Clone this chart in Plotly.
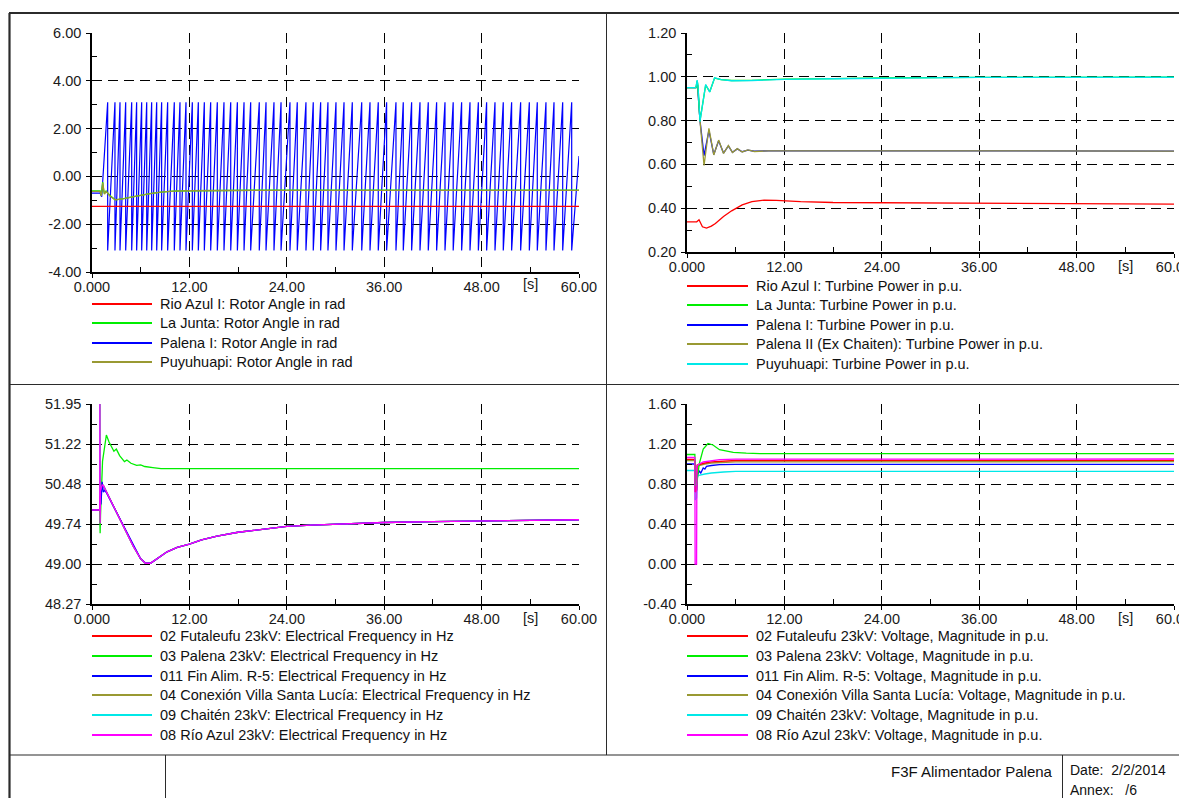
import plotly.graph_objects as go

# the page body has an 8px margin: the figure is sized so that it fills the window
OFF = 8
W, H = 1187 - OFF, 798 - OFF
FONT = "Liberation Sans, Arial, sans-serif"

# ---------------- data ----------------
time_ticks = [0, 12, 24, 36, 48, 60]
time_tick_text = ["0.000", "12.00", "24.00", "36.00", "48.00", "60.00"]
time_minor = [6, 18, 30, 42, 54]

# --- Top-left: rotor angles (rad)
ang_red_t = [0, 60]
ang_red_y = [-1.25, -1.25]
ang_green_t = [0, 1.0, 1.15, 1.31, 1.45, 1.52, 1.73, 2.2, 2.83, 3.1, 4.0, 5.0, 6.0, 7.15, 8.5, 10.0, 12.0, 15.0, 20.0, 60.0]
ang_green_y = [-0.61, -0.61, -0.8, -0.24, -0.6, -0.72, -0.61, -0.8, -0.97, -0.97, -0.92, -0.85, -0.78, -0.72, -0.66, -0.62, -0.6, -0.59, -0.58, -0.58]
ang_olive_t = [0, 1.0, 1.15, 1.33, 1.47, 1.54, 1.75, 2.2, 2.85, 3.1, 4.0, 5.0, 6.0, 7.15, 8.5, 10.0, 12.0, 15.0, 20.0, 60.0]
ang_olive_y = [-0.63, -0.63, -0.82, -0.27, -0.62, -0.74, -0.63, -0.82, -0.98, -0.97, -0.93, -0.86, -0.79, -0.72, -0.66, -0.62, -0.6, -0.59, -0.585, -0.585]
# Palena I: pre-fault part, then wrap times of the +-pi sawtooth
ang_blue_pre_t = [0, 1.0, 1.2]
ang_blue_pre_y = [-0.7, -0.7, -0.85]
ang_blue_wrap_t = [1.93, 2.83, 3.45, 4.15, 4.89, 5.5, 6.12, 6.74, 7.35, 7.97, 8.58, 9.32,
                   10.14, 10.84, 11.58, 12.36, 13.1, 13.84, 14.62, 15.44, 16.26, 17.09,
                   17.91, 18.73, 19.55, 20.61, 21.44, 22.42, 23.29, 24.39, 25.29, 26.36,
                   27.26, 28.17, 29.07, 30.06, 31.05, 32.07, 33.23, 34.25, 35.27, 36.3,
                   37.45, 38.35, 39.38, 40.41, 41.43, 42.46, 43.49, 44.5, 45.54, 46.57,
                   47.6, 48.62, 49.65, 50.67, 51.7, 52.81, 53.88, 54.86, 55.93, 56.92,
                   57.99, 59.1]
ang_blue_wrap_hi = 3.1
ang_blue_wrap_lo = -3.1
ang_blue_end_t = [60.0]
ang_blue_end_y = [0.85]

# --- Top-right: turbine power (p.u.)
pw_red_t = [0, 1.2, 1.48, 1.9, 2.4, 3.0, 3.5, 4.5, 5.5, 6.8, 8.0, 9.5, 11.0, 14.0, 18.0, 24.0, 36.0, 48.0, 60.0]
pw_red_y = [0.338, 0.338, 0.347, 0.315, 0.309, 0.318, 0.33, 0.362, 0.388, 0.415, 0.43, 0.437, 0.436, 0.43, 0.426, 0.425, 0.423, 0.422, 0.419]
pw_green_t = [0, 1.1, 1.25, 1.35, 1.6, 2.3, 2.8, 3.4, 4.2, 5.5, 8.0, 12.0, 18.0, 24.0, 36.0, 60.0]
pw_green_y = [0.951, 0.951, 0.982, 0.96, 0.80, 0.962, 0.932, 0.994, 0.987, 0.983, 0.984, 0.989, 0.992, 0.995, 0.997, 0.998]
pw_cyan_t = [0, 1.1, 1.25, 1.35, 1.6, 2.3, 2.8, 3.4, 4.2, 5.5, 8.0, 12.0, 18.0, 24.0, 36.0, 60.0]
pw_cyan_y = [0.951, 0.951, 0.985, 0.96, 0.795, 0.965, 0.93, 0.995, 0.987, 0.982, 0.983, 0.988, 0.991, 0.994, 0.997, 0.998]
pw_blue_t = [0, 1.1, 1.3, 1.6, 2.1, 2.7, 3.3, 3.9, 4.5, 5.1, 5.6, 6.2, 6.8, 7.5, 8.3, 10.0, 60.0]
pw_blue_y = [0.951, 0.951, 0.96, 0.80, 0.64, 0.755, 0.645, 0.708, 0.652, 0.684, 0.655, 0.671, 0.658, 0.665, 0.66, 0.662, 0.661]
pw_olive_t = [0, 1.1, 1.3, 1.6, 2.1, 2.7, 3.3, 3.9, 4.5, 5.1, 5.6, 6.2, 6.8, 7.5, 8.3, 10.0, 60.0]
pw_olive_y = [0.951, 0.951, 0.96, 0.80, 0.595, 0.765, 0.643, 0.711, 0.65, 0.686, 0.654, 0.672, 0.657, 0.666, 0.659, 0.662, 0.661]

# --- Bottom-left: electrical frequency (Hz)
freq_ticks = [48.27, 49.006, 49.742, 50.478, 51.214, 51.95]
freq_tick_text = ["48.27", "49.00", "49.74", "50.48", "51.22", "51.95"]
fq_main_t = [0, 0.95, 0.97, 1.0, 1.05, 1.25, 1.4, 1.85, 2.67, 3.5, 4.3, 5.1, 5.96, 6.6, 7.2, 8.0, 9.25, 10.5, 12.0, 13.5, 15.4, 18.0, 21.0, 24.0, 27.0, 30.0, 33.0, 36.0, 42.0, 48.0, 54.0, 60.0]
fq_main_y = [50.0, 50.0, 51.95, 49.75, 50.35, 50.46, 50.45, 50.31, 50.07, 49.82, 49.57, 49.33, 49.11, 49.02, 49.02, 49.10, 49.23, 49.31, 49.37, 49.45, 49.52, 49.59, 49.65, 49.70, 49.72, 49.74, 49.76, 49.77, 49.785, 49.795, 49.81, 49.82]
fq_blue_t = [0, 0.95, 1.0, 1.1, 1.25, 1.4, 1.6, 1.85, 2.67, 3.5, 4.3, 5.1, 5.96, 6.6, 7.2, 8.0, 9.25, 10.5, 12.0, 13.5, 15.4, 18.0, 21.0, 24.0, 27.0, 30.0, 33.0, 36.0, 42.0, 48.0, 54.0, 60.0]
fq_blue_y = [50.0, 50.0, 50.25, 50.1, 50.52, 50.33, 50.36, 50.3, 50.06, 49.82, 49.57, 49.33, 49.11, 49.02, 49.02, 49.10, 49.23, 49.31, 49.37, 49.45, 49.52, 49.59, 49.65, 49.70, 49.72, 49.74, 49.76, 49.77, 49.785, 49.795, 49.81, 49.82]
fq_green_t = [0, 0.95, 1.0, 1.05, 1.3, 1.77, 2.1, 2.7, 3.0, 3.4, 4.0, 4.3, 4.8, 5.5, 6.0, 6.5, 7.5, 8.5, 60.0]
fq_green_y = [50.0, 50.0, 49.57, 49.9, 50.9, 51.38, 51.25, 51.08, 51.12, 51.0, 50.89, 50.92, 50.86, 50.82, 50.83, 50.8, 50.78, 50.76, 50.76]

# --- Bottom-right: voltage magnitude (p.u.)
vm_red_t = [0, 0.97, 1.02, 1.18, 1.25, 1.6, 2.2, 3.0, 4.5, 6.0, 60.0]
vm_red_y = [1.047, 1.047, 0.72, 0.74, 0.99, 1.0, 1.01, 1.022, 1.03, 1.035, 1.037]
vm_green_t = [0, 0.97, 1.02, 1.2, 1.5, 2.0, 2.59, 3.2, 4.0, 5.0, 5.7, 7.3, 9.0, 60.0]
vm_green_y = [1.095, 1.095, 0.78, 0.8, 1.0, 1.15, 1.205, 1.19, 1.143, 1.125, 1.117, 1.108, 1.104, 1.103]
vm_blue_t = [0, 0.97, 1.02, 1.18, 1.25, 1.5, 1.7, 2.0, 2.2, 2.4, 3.0, 4.0, 6.0, 60.0]
vm_blue_y = [1.0, 1.0, 0.72, 0.74, 0.88, 0.93, 0.91, 0.96, 0.95, 0.977, 0.985, 0.993, 0.996, 0.997]
vm_olive_t = [0, 0.97, 1.02, 1.18, 1.25, 1.6, 2.2, 3.0, 4.5, 6.0, 60.0]
vm_olive_y = [1.033, 1.033, 0.72, 0.74, 0.98, 0.99, 1.0, 1.01, 1.017, 1.021, 1.023]
vm_cyan_t = [0, 0.97, 1.02, 1.18, 1.3, 1.6, 2.2, 3.0, 4.5, 6.0, 60.0]
vm_cyan_y = [0.935, 0.935, 0.64, 0.66, 0.877, 0.89, 0.9, 0.91, 0.92, 0.926, 0.927]
vm_mag_t = [0, 0.97, 1.0, 1.18, 1.22, 1.5, 2.0, 3.0, 4.0, 6.0, 60.0]
vm_mag_y = [1.065, 1.065, 0.0, 0.0, 0.98, 1.0, 1.02, 1.035, 1.043, 1.048, 1.05]

# legend names
tl_names = ["Rio Azul I: Rotor Angle in rad", "La Junta: Rotor Angle in rad",
            "Palena I: Rotor Angle in rad", "Puyuhuapi: Rotor Angle in rad"]
tr_names = ["Rio Azul I: Turbine Power in p.u.", "La Junta: Turbine Power in p.u.",
            "Palena I: Turbine Power in p.u.", "Palena II (Ex Chaiten): Turbine Power in p.u.",
            "Puyuhuapi: Turbine Power in p.u."]
bl_names = ["02 Futaleufu 23kV: Electrical Frequency in Hz", "03 Palena 23kV: Electrical Frequency in Hz",
            "011 Fin Alim. R-5: Electrical Frequency in Hz",
            "04 Conexión Villa Santa Lucía: Electrical Frequency in Hz",
            "09 Chaitén 23kV: Electrical Frequency in Hz", "08 Río Azul 23kV: Electrical Frequency in Hz"]
br_names = ["02 Futaleufu 23kV: Voltage, Magnitude in p.u.", "03 Palena 23kV: Voltage, Magnitude in p.u.",
            "011 Fin Alim. R-5: Voltage, Magnitude in p.u.",
            "04 Conexión Villa Santa Lucía: Voltage, Magnitude in p.u.",
            "09 Chaitén 23kV: Voltage, Magnitude in p.u.", "08 Río Azul 23kV: Voltage, Magnitude in p.u."]
footer_title = "F3F Alimentador Palena"
footer_date = "Date:  2/2/2014"
footer_annex = "Annex:   /6"

# ---------------- style ----------------
RED, GREEN, BLUE, OLIVE, CYAN, MAG = "#ff0000", "#00ee00", "#0000ff", "#999933", "#00e8e8", "#ff00ff"
LW = 1.3
FS = 14.5


def px(x):
    """screen pixel x -> paper fraction"""
    return (x - OFF) / W


def py(y):
    """screen pixel y -> paper fraction"""
    return 1 - (y - OFF) / H


fig = go.Figure()


def add(t, y, color, ax, width=LW):
    fig.add_trace(go.Scatter(x=t, y=y, mode="lines", line=dict(color=color, width=width),
                             xaxis="x" + ax if ax != "1" else "x",
                             yaxis="y" + ax if ax != "1" else "y",
                             showlegend=False, hoverinfo="skip"))


# Top-left traces
blue_t = list(ang_blue_pre_t)
blue_y = list(ang_blue_pre_y)
for tw in ang_blue_wrap_t:
    blue_t += [tw, tw]
    blue_y += [ang_blue_wrap_hi, ang_blue_wrap_lo]
blue_t += ang_blue_end_t
blue_y += ang_blue_end_y
add(blue_t, blue_y, BLUE, "1", 1.2)
add(ang_red_t, ang_red_y, RED, "1")
add(ang_green_t, ang_green_y, GREEN, "1")
add(ang_olive_t, ang_olive_y, OLIVE, "1")

# Top-right traces
add(pw_red_t, pw_red_y, RED, "2")
add(pw_blue_t, pw_blue_y, BLUE, "2")
add(pw_olive_t, pw_olive_y, OLIVE, "2")
add(pw_green_t, pw_green_y, GREEN, "2")
add(pw_cyan_t, pw_cyan_y, CYAN, "2")

# Bottom-left traces (Futaleufu, Conexión, Chaitén coincide with Río Azul)
add(fq_main_t, fq_main_y, RED, "3")
add(fq_main_t, fq_main_y, OLIVE, "3")
add(fq_main_t, fq_main_y, CYAN, "3")
add(fq_green_t, fq_green_y, GREEN, "3")
add(fq_blue_t, fq_blue_y, BLUE, "3")
add(fq_main_t, fq_main_y, MAG, "3")

# Bottom-right traces
add(vm_cyan_t, vm_cyan_y, CYAN, "4")
add(vm_blue_t, vm_blue_y, BLUE, "4")
add(vm_olive_t, vm_olive_y, OLIVE, "4")
add(vm_red_t, vm_red_y, RED, "4")
add(vm_green_t, vm_green_y, GREEN, "4")
add(vm_mag_t, vm_mag_y, MAG, "4")

GRIDDASH = "10px,6px"
tickfont = dict(family=FONT, size=FS, color="#1a1a1a")


def xcfg(x0, x1, anchor):
    return dict(domain=[px(x0), px(x1)], anchor=anchor, range=[0, 60],
                tickvals=time_ticks, ticktext=time_tick_text,
                ticks="outside", ticklen=4, tickcolor="black", tickwidth=1,
                showline=True, linecolor="black", linewidth=1.5,
                showgrid=True, gridcolor="black", gridwidth=1, griddash=GRIDDASH,
                zeroline=False, tickfont=tickfont, fixedrange=True, automargin=False,
                ticklabeloverflow="allow", ticklabelstandoff=-3,
                minor=dict(tickvals=time_minor, ticks="inside", ticklen=5,
                           tickcolor="black", showgrid=False))


def ycfg(y0, y1, anchor, rng, vals, texts, minor_vals):
    return dict(domain=[py(y1), py(y0)], anchor=anchor, range=rng,
                tickvals=vals, ticktext=texts,
                ticks="outside", ticklen=4, tickcolor="black", tickwidth=1,
                showline=True, linecolor="black", linewidth=1.5,
                showgrid=True, gridcolor="black", gridwidth=1, griddash=GRIDDASH,
                zeroline=False, tickfont=tickfont, fixedrange=True, automargin=False,
                ticklabeloverflow="allow", ticklabelstandoff=2,
                minor=dict(tickvals=minor_vals, ticks="inside", ticklen=5,
                           tickcolor="black", showgrid=False))


tl_vals = [-4, -2, 0, 2, 4, 6]
tr_vals = [0.2, 0.4, 0.6, 0.8, 1.0, 1.2]
br_vals = [-0.4, 0.0, 0.4, 0.8, 1.2, 1.6]


def fmt(v):
    return "%.2f" % v


def mids(vals):
    return [(a + b) / 2 for a, b in zip(vals[:-1], vals[1:])]


fig.update_layout(
    width=W, height=H, autosize=False,
    margin=dict(l=0, r=0, t=0, b=0, pad=0, autoexpand=False),
    paper_bgcolor="white", plot_bgcolor="white", showlegend=False,
    xaxis=xcfg(92, 579, "y"),
    yaxis=ycfg(33, 272, "x", [-4, 6], tl_vals, [fmt(v) for v in tl_vals], mids(tl_vals)),
    xaxis2=xcfg(687, 1174, "y2"),
    yaxis2=ycfg(33, 252, "x2", [0.2, 1.2], tr_vals, [fmt(v) for v in tr_vals], mids(tr_vals)),
    xaxis3=xcfg(92, 579, "y3"),
    yaxis3=ycfg(404, 604, "x3", [48.27, 51.95], freq_ticks, freq_tick_text, mids(freq_ticks)),
    xaxis4=xcfg(687, 1174, "y4"),
    yaxis4=ycfg(404, 604, "x4", [-0.4, 1.6], br_vals, [fmt(v) for v in br_vals], mids(br_vals)),
)

shapes = []
annotations = []


def hline(x0, x1, y, color="#2b2b2b", width=1):
    shapes.append(dict(type="line", xref="paper", yref="paper", x0=px(x0), x1=px(x1),
                       y0=py(y), y1=py(y), line=dict(color=color, width=width)))


def vline(x, y0, y1, color="#2b2b2b", width=1):
    shapes.append(dict(type="line", xref="paper", yref="paper", x0=px(x), x1=px(x),
                       y0=py(y0), y1=py(y1), line=dict(color=color, width=width)))


# sheet frame
hline(9, 1187, 13, width=2.2)
vline(9.5, 13, 798, width=2.2)
vline(606.5, 13, 755, width=1)
hline(9, 1187, 384.5, width=1.2)
hline(9, 1187, 755, width=1.2)
vline(165.5, 755, 798, width=1)
vline(1062.5, 755, 798, width=1)

# "[s]" unit labels
for xr, yy in (("x", 284), ("x2", 266), ("x3", 618), ("x4", 618)):
    annotations.append(dict(text="[s]", xref=xr, yref="paper", x=54, y=py(yy),
                            showarrow=False, xanchor="center", yanchor="middle",
                            font=dict(family=FONT, size=FS, color="#1a1a1a")))


def legend(names, colors, lx0, lx1, tx, rows):
    for name, col, ry in zip(names, colors, rows):
        shapes.append(dict(type="line", xref="paper", yref="paper", x0=px(lx0), x1=px(lx1),
                           y0=py(ry), y1=py(ry), line=dict(color=col, width=2)))
        annotations.append(dict(text=name, xref="paper", yref="paper", x=px(tx), y=py(ry),
                                showarrow=False, xanchor="left", yanchor="middle",
                                font=dict(family=FONT, size=FS, color="#111111")))


legend(tl_names, [RED, GREEN, BLUE, OLIVE], 92, 152, 158, [304, 323, 343, 362])
legend(tr_names, [RED, GREEN, BLUE, OLIVE, CYAN], 687, 748, 754, [286, 305, 325, 344, 364])
six_rows = [636, 656, 676, 695, 715, 735]
legend(bl_names, [RED, GREEN, BLUE, OLIVE, CYAN, MAG], 92, 152, 158, six_rows)
legend(br_names, [RED, GREEN, BLUE, OLIVE, CYAN, MAG], 687, 748, 754, six_rows)

# footer texts
annotations.append(dict(text=footer_title, xref="paper", yref="paper", x=px(1055), y=py(771),
                        showarrow=False, xanchor="right", yanchor="middle",
                        font=dict(family=FONT, size=15, color="#111111")))
annotations.append(dict(text=footer_date, xref="paper", yref="paper", x=px(1068), y=py(770),
                        showarrow=False, xanchor="left", yanchor="middle",
                        font=dict(family=FONT, size=14, color="#111111")))
annotations.append(dict(text=footer_annex, xref="paper", yref="paper", x=px(1068), y=py(790),
                        showarrow=False, xanchor="left", yanchor="middle",
                        font=dict(family=FONT, size=14, color="#111111")))

fig.update_layout(shapes=shapes, annotations=annotations)
fig.write_html("out.html")
